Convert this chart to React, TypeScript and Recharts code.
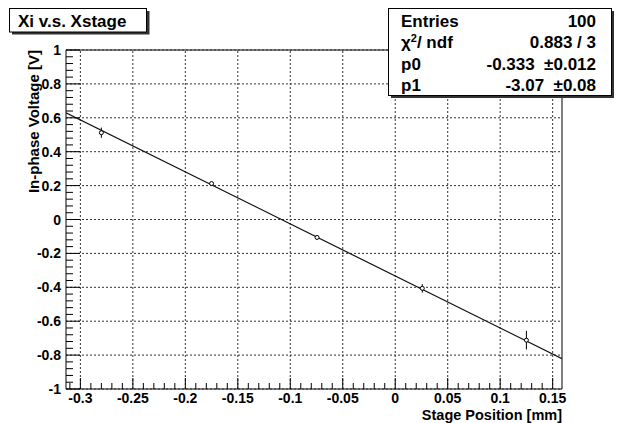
import React from 'react';
import {
  ComposedChart,
  XAxis,
  YAxis,
  Scatter,
  Line,
  ErrorBar,
  ReferenceLine,
  ReferenceArea,
} from 'recharts';

const W = 617;
const H = 423;
const FONT = '"Liberation Sans", Arial, Helvetica, sans-serif';

// measured points (stage position [mm], in-phase voltage [V], error)
const pointX = [-0.28, -0.175, -0.0745, 0.0258, 0.125];
const pointY = [0.512, 0.212, -0.106, -0.406, -0.712];
const pointErr = [0.03, 0.01, 0.01, 0.025, 0.055];

// fit line end points
const fitX = [-0.3137, 0.1589];
const fitY = [0.63, -0.821];

const xDomain: [number, number] = [-0.3137, 0.1589];
const yDomain: [number, number] = [-1, 1];

const xMajorTicks = [-0.3, -0.25, -0.2, -0.15, -0.1, -0.05, 0, 0.05, 0.1, 0.15];
const yMajorTicks = [-1, -0.8, -0.6, -0.4, -0.2, 0, 0.2, 0.4, 0.6, 0.8, 1];

const titleText = 'Xi v.s. Xstage';
const xTitle = 'Stage Position [mm]';
const yTitle = 'In-phase Voltage [V]';
const statsLabels = ['Entries', 'chi', 'p0', 'p1'];
const statsValues = ['100', '0.883 / 3', '-0.333  \u00b10.012', '-3.07  \u00b10.08'];

const points = pointX.map((x, i) => ({ x, y: pointY[i], err: pointErr[i] }));
const fitLine = fitX.map((x, i) => ({ x, y: fitY[i] }));

// tick positions (all, including minor)
const xAllTicks: number[] = [];
for (let k = -31; k <= 15; k++) xAllTicks.push(k / 100);
const yAllTicks: number[] = [];
for (let k = -100; k <= 100; k += 4) yAllTicks.push(k / 100);

const fmt = (v: number) => {
  const s = String(parseFloat(v.toFixed(2)));
  return s === '-0' ? '0' : s;
};

const PLOT_LEFT = 66;
const PLOT_BOTTOM = 389;

const renderXTick = (props: any) => {
  const { x, payload } = props;
  const y = PLOT_BOTTOM;
  const v = payload.value as number;
  const k = Math.round(v * 100);
  const major = k % 5 === 0;
  return (
    <g key={'xt' + k}>
      <line x1={x} x2={x} y1={y} y2={y - (major ? 11 : 6)} stroke="#000" strokeWidth={1} />
      {major && (
        <text
          x={x}
          y={y + 13.5}
          textAnchor="middle"
          fontFamily={FONT}
          fontWeight="bold"
          fontSize={14}
          fill="#000"
        >
          {fmt(v)}
        </text>
      )}
    </g>
  );
};

const renderYTick = (props: any) => {
  const { y, payload } = props;
  const x = PLOT_LEFT;
  const v = payload.value as number;
  const k = Math.round(v * 100);
  const major = k % 20 === 0;
  return (
    <g key={'yt' + k}>
      <line x1={x} x2={x + (major ? 14 : 7)} y1={y} y2={y} stroke="#000" strokeWidth={1} />
      {major && (
        <text
          x={x - 5}
          y={y + 5}
          textAnchor="end"
          fontFamily={FONT}
          fontWeight="bold"
          fontSize={14}
          fill="#000"
        >
          {fmt(v)}
        </text>
      )}
    </g>
  );
};

const Marker = (props: any) => {
  const { cx, cy } = props;
  if (cx == null || cy == null) return null;
  return <circle cx={cx} cy={cy} r={2} fill="#fff" stroke="#000" strokeWidth={1} />;
};

export default function App() {
  return (
    <div style={{ position: 'absolute', left: 0, top: 0, width: W, height: H, background: '#fff' }}>
      <ComposedChart
        width={W}
        height={H}
        margin={{ top: 50, right: 55, left: 6, bottom: 4 }}
        style={{ position: 'absolute', left: 0, top: 0 }}
      >
        <XAxis
          type="number"
          dataKey="x"
          domain={xDomain}
          allowDataOverflow
          ticks={xAllTicks}
          interval={0}
          tickSize={0}
          tickMargin={0}
          tickLine={false}
          axisLine={false}
          height={30}
          tick={renderXTick}
        />
        <YAxis
          type="number"
          dataKey="y"
          domain={yDomain}
          allowDataOverflow
          ticks={yAllTicks}
          interval={0}
          tickSize={0}
          tickMargin={0}
          tickLine={false}
          axisLine={false}
          width={60}
          tick={renderYTick}
        />
        {xMajorTicks.map((v) => (
          <ReferenceLine
            key={'gx' + v}
            x={v}
            stroke="#333"
            strokeWidth={1}
            strokeDasharray="2 2"
          />
        ))}
        {yMajorTicks.map((v) => (
          <ReferenceLine
            key={'gy' + v}
            y={v}
            stroke="#333"
            strokeWidth={1}
            strokeDasharray="2 2"
          />
        ))}
        <ReferenceArea
          x1={xDomain[0]}
          x2={xDomain[1]}
          y1={yDomain[0]}
          y2={yDomain[1]}
          fill="none"
          fillOpacity={0}
          stroke="#000"
          strokeWidth={1}
        />
        <Line
          data={fitLine}
          dataKey="y"
          type="linear"
          stroke="#111"
          strokeWidth={1.2}
          dot={false}
          activeDot={false}
          isAnimationActive={false}
        />
        <Scatter data={points} dataKey="y" shape={<Marker />} isAnimationActive={false}>
          <ErrorBar dataKey="err" direction="y" width={0} stroke="#000" strokeWidth={1} isAnimationActive={false} />
        </Scatter>
      </ComposedChart>
      <svg
        width={W}
        height={H}
        style={{ position: 'absolute', left: 0, top: 0, pointerEvents: 'none' }}
      >
        {/* title box */}
        <rect x={12} y={11} width={137.5} height={23.5} fill="#333" />
        <rect x={9.5} y={8.5} width={137} height={23.5} fill="#fff" stroke="#000" strokeWidth={1} />
        <text x={18} y={27} fontFamily={FONT} fontWeight="bold" fontSize={17} fill="#000">
          {titleText}
        </text>
        {/* stats box */}
        <rect x={391} y={11} width={223} height={87} fill="#333" />
        <rect x={388.5} y={8.5} width={223} height={87} fill="#fff" stroke="#000" strokeWidth={1} />
        {statsLabels.map((lab, i) => (
          <text
            key={'sl' + i}
            x={401}
            y={27 + i * 21.3}
            fontFamily={FONT}
            fontWeight="bold"
            fontSize={17}
            fill="#000"
          >
            {lab === 'chi' ? (
              <>
                <tspan>{'\u03c7'}</tspan>
                <tspan dy={-6} fontSize={11}>2</tspan>
                <tspan dy={6}>/ ndf</tspan>
              </>
            ) : (
              lab
            )}
          </text>
        ))}
        {statsValues.map((val, i) => (
          <text
            key={'sv' + i}
            x={596}
            y={27 + i * 21.3}
            textAnchor="end"
            fontFamily={FONT}
            fontWeight="bold"
            fontSize={17}
            fill="#000"
            style={{ whiteSpace: 'pre' }}
          >
            {val}
          </text>
        ))}
        {/* axis titles */}
        <text
          x={562}
          y={419.5}
          textAnchor="end"
          fontFamily={FONT}
          fontWeight="bold"
          fontSize={14.5}
          fill="#000"
        >
          {xTitle}
        </text>
        <text
          x={0}
          y={0}
          transform="translate(39,50) rotate(-90)"
          textAnchor="end"
          fontFamily={FONT}
          fontWeight="bold"
          fontSize={15}
          fill="#000"
        >
          {yTitle}
        </text>
      </svg>
    </div>
  );
}
